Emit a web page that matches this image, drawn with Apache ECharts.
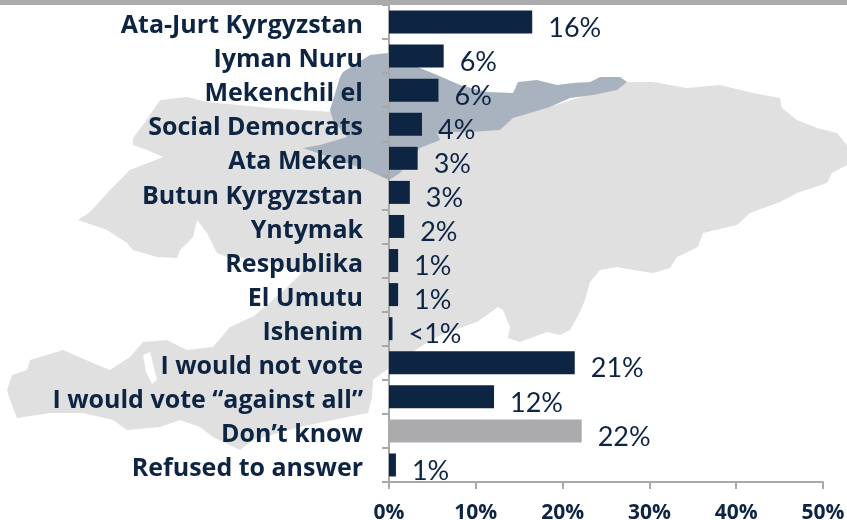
<!DOCTYPE html>
<html><head><meta charset="utf-8">
<style>html,body{margin:0;padding:0;background:#fff}#c{width:847px;height:520px}</style>
<script src="https://cdn.jsdelivr.net/npm/echarts@6/dist/echarts.min.js"></script>
</head><body><div id="c"></div>
<script>
const categories = ["Ata-Jurt Kyrgyzstan","Iyman Nuru","Mekenchil el","Social Democrats","Ata Meken","Butun Kyrgyzstan","Yntymak","Respublika","El Umutu","Ishenim","I would not vote","I would vote “against all”","Don’t know","Refused to answer"];
const values = [16.5,6.3,5.7,3.8,3.3,2.4,1.75,1.05,1.05,0.4,21.4,12.1,22.2,0.8];
const valueLabels = ["16%","6%","6%","4%","3%","3%","2%","1%","1%","<1%","21%","12%","22%","1%"];
const highlightCategory = "Don’t know";
const axisTicks = [0,10,20,30,40,50];

// Decorative backdrop: outline of the country, not data
const landOutline = [[627,82],[653,82],[687,88],[720,85],[753,93],[780,98],[782,108],[797,120],[817,128],[837,133],[847,145],[847,165],[832,173],[827,183],[797,193],[780,202],[750,213],[737,225],[703,233],[698,247],[677,257],[670,268],[653,273],[633,270],[617,267],[600,270],[590,282],[585,300],[580,312],[570,330],[560,335],[547,332],[520,342],[508,338],[510,327],[503,310],[498,307],[477,322],[460,328],[437,337],[420,347],[389,368],[373,380],[372,397],[368,413],[333,420],[300,427],[253,440],[240,450],[213,437],[200,427],[180,420],[160,427],[127,430],[113,420],[83,413],[50,413],[17,418],[10,400],[7,390],[12,375],[27,370],[30,360],[63,350],[93,363],[110,370],[130,357],[143,342],[167,340],[187,350],[213,347],[230,327],[254,316],[281,293],[302,273],[265,262],[245,258],[227,257],[217,253],[207,233],[197,220],[193,237],[180,250],[177,258],[157,257],[133,250],[127,243],[107,230],[78,220],[90,212],[110,190],[130,170],[163,157],[147,150],[133,145],[133,138],[143,125],[160,100],[187,97],[207,102],[270,108],[333,112],[450,120],[550,107]];
const landHole = [[143,355],[150,352],[157,380],[152,384],[146,372]];
const regionOutline = [[343,72],[370,55],[388,53],[420,68],[437,75],[460,85],[487,92],[513,93],[518,82],[537,80],[557,85],[573,83],[590,82],[600,77],[620,77],[627,82],[617,90],[593,95],[570,98],[550,107],[513,118],[500,130],[470,132],[437,132],[440,140],[420,148],[400,173],[389,180],[367,170],[303,148],[320,145],[347,137],[333,120],[330,110],[340,77]];

const navy = "#0e2443", grey = "#ababad", axisGrey = "#a9a9a9";
const chart = echarts.init(document.getElementById('c'), null, {renderer:'canvas'});
chart.setOption({
  animation:false,
  graphic:[
    {type:'rect',z:0,silent:true,shape:{x:0,y:0,width:847,height:5},style:{fill:grey}},
    {type:'polygon',z:0,silent:true,shape:{points:landOutline},style:{fill:'#e0e0e1'}},
    {type:'polygon',z:0,silent:true,shape:{points:landHole},style:{fill:'#fff'}},
    {type:'polygon',z:0,silent:true,shape:{points:regionOutline},style:{fill:'#a9b3bf'}}
  ],
  grid:{left:389,top:5,width:434,height:477,containLabel:false,outerBoundsMode:'none'},
  xAxis:{type:'value',min:axisTicks[0],max:axisTicks[axisTicks.length-1],interval:10,
    splitLine:{show:false},
    axisLine:{show:true,lineStyle:{color:axisGrey,width:2}},
    axisTick:{show:true,length:7,lineStyle:{color:axisGrey,width:2}},
    axisLabel:{formatter:'{value}%',color:navy,fontFamily:'Open Sans',fontWeight:700,fontSize:21,margin:21,hideOverlap:false,showMaxLabel:true,showMinLabel:true}},
  yAxis:{type:'category',inverse:true,data:categories,
    axisLine:{show:true,onZero:false,lineStyle:{color:axisGrey,width:2}},
    axisTick:{show:true,length:7,lineStyle:{color:axisGrey,width:2}},
    axisLabel:{color:navy,fontFamily:'Open Sans',fontWeight:700,fontSize:25,margin:26,interval:0,verticalAlign:'top',lineHeight:8}},
  series:[{type:'bar',barWidth:23,z:3,
    data:values.map((v,i)=>({value:v,itemStyle:{color:categories[i]===highlightCategory?grey:navy}})),
    label:{show:true,position:'right',distance:16,offset:[0,6],color:navy,fontFamily:'Lato',fontSize:27,
      formatter:p=>valueLabels[p.dataIndex]}}]
});
</script></body></html>
